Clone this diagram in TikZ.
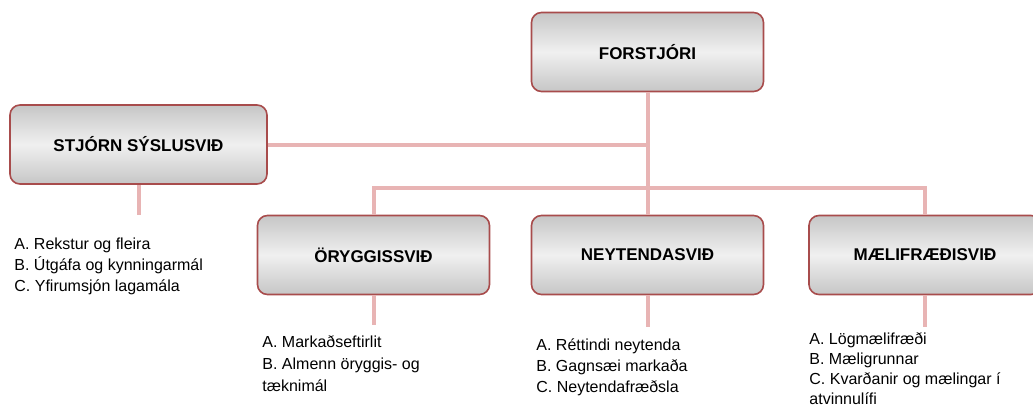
\documentclass[tikz,border=0pt]{standalone}
\usepackage{fontspec}
\setmainfont{Liberation Sans}
\usetikzlibrary{positioning}
\definecolor{LinkPink}{HTML}{E8B4B4}
\definecolor{BoxRed}{HTML}{A84C4C}
\definecolor{BoxDark}{HTML}{C6C6C6}
\definecolor{BoxLight}{HTML}{F0F0F0}
\tikzset{
  unitbox/.style={draw=BoxRed, line width=0.8pt, rounded corners=5pt,
    top color=BoxDark, bottom color=BoxDark, middle color=BoxLight,
    minimum width=116pt, minimum height=39.5pt, inner sep=0pt,
    font=\fontsize{8.5}{10}\selectfont\bfseries},
  tasklist/.style={anchor=north west, align=left, inner sep=0pt,
    font=\fontsize{8}{10.5}\selectfont},
  link/.style={LinkPink, line width=2pt}
}

\begin{document}
\begin{tikzpicture}[x=0.5pt, y=-0.5pt]
  \clip (0,0) rectangle (1033,407);

  \node [unitbox] (Forstjori) at (647.5,52)  {FORSTJÓRI};
  \node [unitbox, minimum width=128.5pt] (Stjorn) at (138.5,144.5) {STJÓRN SÝSLUSVIÐ};

  \node [unitbox] (Oryggi)   at (373.5,255) {ÖRYGGISSVIÐ};
  \node [unitbox] (Neytenda) at (647.5,255) {NEYTENDASVIÐ};
  \node [unitbox] (Maeli)    at (925,255)   {MÆLIFRÆÐISVIÐ};

  \coordinate (Split) at (647.5,188);
  \coordinate (StjornJoin) at (Forstjori.south |- Stjorn.east);

  \draw [link] (Stjorn.east) -- (StjornJoin);
  \draw [link] (Forstjori.south) -- (Neytenda.north);
  \draw [link] (Oryggi.north) |- (Split) -| (Maeli.north);

  \foreach \unit/\stubend in {Stjorn/215,Oryggi/325,Neytenda/327,Maeli/327}{%
    \draw [link] (\unit.south) -- (\unit.south |- 0,\stubend);
  }

  \node [tasklist] (StjornList) at (14,238)
    {A. Rekstur og fleira\\B. Útgáfa og kynningarmál\\C. Yfirumsjón lagamála};
  \node [tasklist, font=\fontsize{8}{11}\selectfont] (OryggiList) at (262,335)
    {A. Markaðseftirlit\\B. Almenn öryggis- og\\tæknimál};
  \node [tasklist] (NeytendaList) at (536,338)
    {A. Réttindi neytenda\\B. Gagnsæi markaða\\C. Neytendafræðsla};
  \node [tasklist, font=\fontsize{8}{10}\selectfont] (MaeliList) at (809,332)
    {A. Lögmælifræði\\B. Mæligrunnar\\C. Kvarðanir og mælingar í\\atvinnulífi};
\end{tikzpicture}
\end{document}
